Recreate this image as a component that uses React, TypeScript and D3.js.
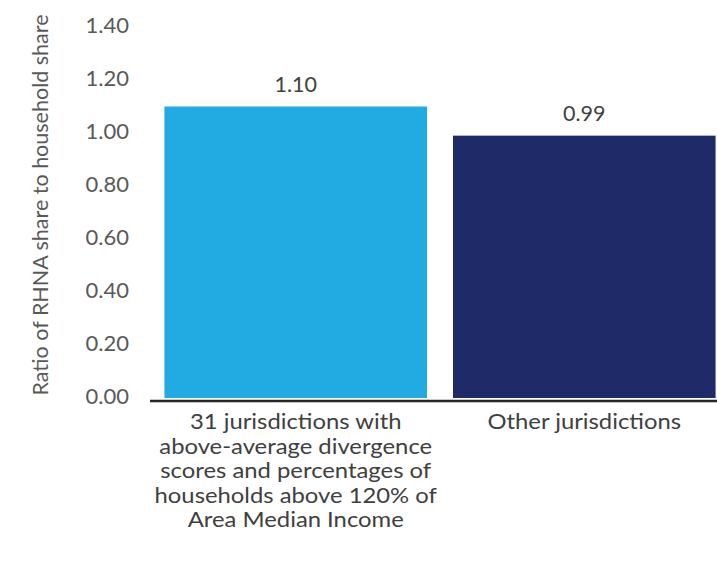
import React from "react";
import * as d3 from "d3";

const categories = ["31 jurisdictions with above-average divergence scores and percentages of households above 120% of Area Median Income", "Other jurisdictions"];
const categoryLines = [
  ["31 jurisdictions with", "above-average divergence", "scores and percentages of", "households above 120% of", "Area Median Income"],
  ["Other jurisdictions"],
];
const values = [1.1, 0.99];
const valueLabels = ["1.10", "0.99"];
const tickValues = [0, 0.2, 0.4, 0.6, 0.8, 1.0, 1.2, 1.4];
const yTitle = "Ratio of RHNA share to household share";
const colors = ["#22aae2", "#1f2a68"];

const W = 717;
const H = 562;
const FONT = "Lato, 'Open Sans', sans-serif";

export default function App() {
  const x = d3.scaleBand<string>().domain(categories).range([150, 730]).paddingInner(0.09).paddingOuter(0.05);
  const y = d3.scaleLinear().domain([0, 1.4]).range([398, 27]);
  const fmt = d3.format(".2f");
  return (
    <svg width={W} height={H} style={{ position: "absolute", left: 0, top: 0, background: "#fff" }} fontFamily={FONT}>
      <rect x={0} y={0} width={W} height={H} fill="#fff" />
      {tickValues.map((t) => (
        <text key={t} x={129} y={y(t)} textAnchor="end" dominantBaseline="middle" fontSize={22} fill="#595959">
          {fmt(t)}
        </text>
      ))}
      <text
        transform={`translate(43,${205}) rotate(-90)`}
        textAnchor="middle"
        dominantBaseline="middle"
        fontSize={21.5}
        fill="#595959"
      >
        {yTitle}
      </text>
      {categories.map((c, i) => (
        <rect key={c} x={x(c)} y={y(values[i])} width={x.bandwidth()} height={y(0) - y(values[i])} fill={colors[i]} />
      ))}
      {categories.map((c, i) => (
        <text key={"v" + i} x={(x(c) as number) + x.bandwidth() / 2} y={y(values[i]) - 20} textAnchor="middle" dominantBaseline="middle" fontSize={21.5} fill="#404040">
          {valueLabels[i]}
        </text>
      ))}
      <line x1={150} x2={W} y1={401} y2={401} stroke="#262626" strokeWidth={2.5} />
      {categories.map((c, i) => (
        <g key={"c" + i} transform={`translate(${(x(c) as number) + x.bandwidth() / 2},0) scale(1.18,1)`}>
          <text textAnchor="middle" fontSize={20.2} fill="#404040">
            {categoryLines[i].map((l, j) => (
              <tspan key={j} x={0} y={424 + j * 24.5} dominantBaseline="middle">
                {l}
              </tspan>
            ))}
          </text>
        </g>
      ))}
    </svg>
  );
}
